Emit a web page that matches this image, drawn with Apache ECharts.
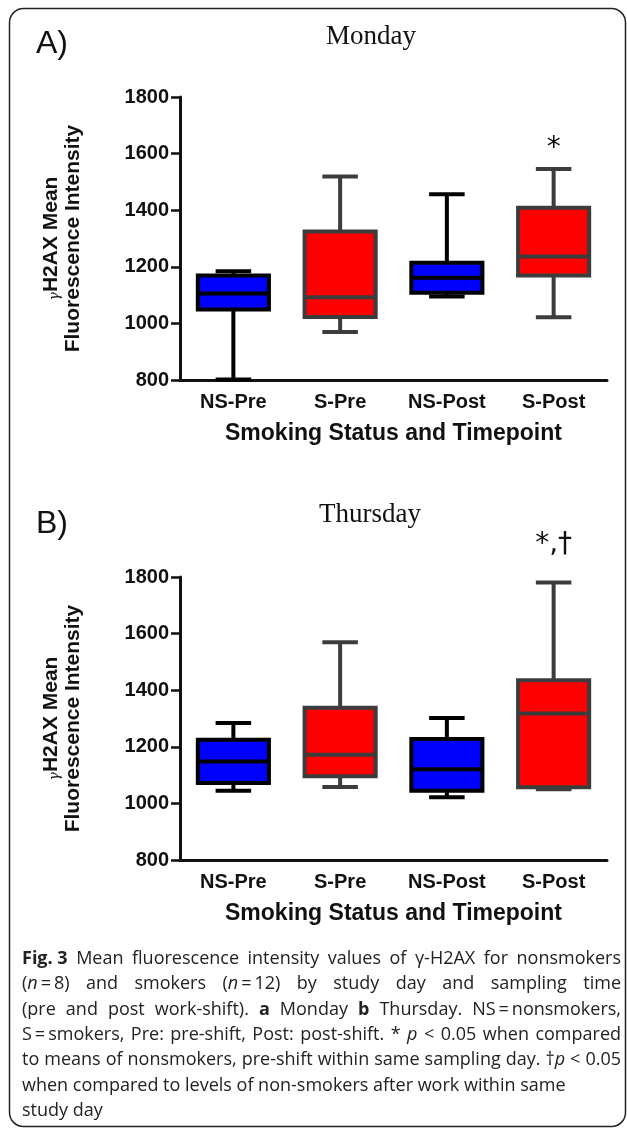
<!DOCTYPE html>
<html>
<head>
<meta charset="utf-8">
<title>γ-H2AX mean fluorescence intensity</title>
<script src="https://cdn.jsdelivr.net/npm/echarts@6/dist/echarts.min.js"></script>
<style>
  html, body { margin: 0; padding: 0; background: #fff; }
  #chart { width: 627px; height: 1130px; }
</style>
</head>
<body>
<div id="chart"></div>
<script>
// values (box: low whisker, q1, median, q3, high whisker)
const categories = ['NS-Pre', 'S-Pre', 'NS-Post', 'S-Post'];

const mondayLow    = [802, 970, 1095, 1022];
const mondayQ1     = [1049, 1023, 1108, 1169];
const mondayMedian = [1106, 1092, 1161, 1236];
const mondayQ3     = [1169, 1325, 1214, 1409];
const mondayHigh   = [1184, 1519, 1456, 1546];
const mondayMarks  = ['', '', '', '*'];

const thursdayLow    = [1045, 1058, 1022, 1050];
const thursdayQ1     = [1072, 1096, 1045, 1057];
const thursdayMedian = [1148, 1172, 1121, 1318];
const thursdayQ3     = [1225, 1338, 1228, 1435];
const thursdayHigh   = [1284, 1569, 1302, 1781];
const thursdayMarks  = ['', '', '', '*,\u2020'];

const yMin = 800, yMax = 1800, yStep = 200;

const captionLines = [
  '^Fig.\u00a03^ Mean fluorescence intensity values of γ-H2AX for nonsmokers',
  '(~n~\u2009=\u20098) and smokers (~n~\u2009=\u200912) by study day and sampling time',
  '(pre and post work-shift). ^a^ Monday ^b^ Thursday. NS\u2009=\u2009nonsmokers,',
  'S\u2009=\u2009smokers, Pre: pre-shift, Post: post-shift. * ~p~ < 0.05 when compared',
  'to means of nonsmokers, pre-shift within same sampling day. \u2020~p~ < 0.05',
  'when compared to levels of non-smokers after work within same',
  'study day'
];

const sans = '"Liberation Sans", Arial, sans-serif';
const capFamily = '"Open Sans", "Noto Sans", sans-serif';
const capSize = 18;

function toRows(low, q1, med, q3, high) {
  return categories.map((c, i) => [i, low[i], q1[i], med[i], q3[i], high[i]]);
}

function makeBox(marks, markGap) {
  return function (params, api) {
    const i = api.value(0);
    const low = api.coord([i, api.value(1)]);
    const q1 = api.coord([i, api.value(2)]);
    const med = api.coord([i, api.value(3)]);
    const q3 = api.coord([i, api.value(4)]);
    const high = api.coord([i, api.value(5)]);
    const half = api.size([1, 0])[0] * 0.333;
    const cap = half / 2;
    const x = med[0];
    const smoker = categories[i].charAt(0) === 'S';
    const ink = smoker ? '#3c3c3c' : '#000';
    const fill = smoker ? '#ff0000' : '#0000ff';
    const seg = (x1, y1, x2, y2) => ({
      type: 'line', shape: {x1, y1, x2, y2}, style: {stroke: ink, lineWidth: 4}
    });
    const children = [
      seg(x, high[1], x, q3[1]),
      seg(x - cap, high[1], x + cap, high[1]),
      seg(x, q1[1], x, low[1]),
      seg(x - cap, low[1], x + cap, low[1]),
      {
        type: 'rect',
        shape: {x: x - half, y: q3[1], width: half * 2, height: q1[1] - q3[1]},
        style: {fill: fill, stroke: ink, lineWidth: 4}
      },
      seg(x - half, med[1], x + half, med[1])
    ];
    if (marks[i]) {
      children.push({
        type: 'text', x: x, y: high[1] - markGap,
        style: {
          text: marks[i], fill: '#111', align: 'center', verticalAlign: 'middle',
          font: '28px "DejaVu Sans", sans-serif'
        }
      });
    }
    return {type: 'group', children: children};
  };
}

// caption: justified lines, ^bold^ and ~italic~ segments
const ctx = document.createElement('canvas').getContext('2d');
function fontOf(kind) {
  return (kind === 'i' ? 'italic ' : '') + (kind === 'b' ? 'bold ' : '') + capSize + 'px ' + capFamily;
}
function parseWord(word) {
  const parts = [];
  const re = /\^([^^]+)\^|~([^~]+)~|([^^~]+)/g;
  let m;
  while ((m = re.exec(word))) {
    if (m[1]) parts.push({kind: 'b', t: m[1]});
    else if (m[2]) parts.push({kind: 'i', t: m[2]});
    else parts.push({kind: 'r', t: m[3]});
  }
  return parts;
}
function measure(parts) {
  return parts.reduce((s, p) => { ctx.font = fontOf(p.kind); return s + ctx.measureText(p.t).width; }, 0);
}
const capRich = {
  r: {fontFamily: capFamily, fontSize: capSize, fill: '#222'},
  b: {fontFamily: capFamily, fontSize: capSize, fontWeight: 'bold', fill: '#222'},
  i: {fontFamily: capFamily, fontSize: capSize, fontStyle: 'italic', fill: '#222'}
};
const captionEls = [];
const capLeft = 22, capRight = 621, capTop = 959, capStep = 25.3;
ctx.font = fontOf('r');
const spaceW = ctx.measureText(' ').width;
captionLines.forEach((line, li) => {
  const words = line.split(' ').map(parseWord);
  const widths = words.map(measure);
  const total = widths.reduce((a, b) => a + b, 0);
  const justify = li < 5;
  const gap = justify ? (capRight - capLeft - total) / (words.length - 1) : spaceW;
  let x = capLeft;
  words.forEach((parts, wi) => {
    captionEls.push({
      type: 'text', x: x, y: capTop + li * capStep,
      style: {
        text: parts.map(p => '{' + p.kind + '|' + p.t + '}').join(''),
        rich: capRich, align: 'left', verticalAlign: 'middle'
      }
    });
    x += widths[wi] + gap;
  });
});

function xAxisFor(gridIndex) {
  return {
    type: 'category', gridIndex: gridIndex, data: categories, boundaryGap: true,
    axisLine: {lineStyle: {color: '#111', width: 3}},
    axisTick: {alignWithLabel: true, length: 7, lineStyle: {color: '#111', width: 2.5}},
    axisLabel: {margin: 12, color: '#111', fontSize: 20, fontWeight: 'bold', fontFamily: sans},
    name: 'Smoking Status and Timepoint', nameLocation: 'middle', nameGap: 42,
    nameTextStyle: {color: '#111', fontSize: 23, fontWeight: 'bold', fontFamily: sans}
  };
}
function yAxisFor(gridIndex) {
  return {
    type: 'value', gridIndex: gridIndex, min: yMin, max: yMax, interval: yStep,
    splitLine: {show: false},
    axisLine: {show: true, lineStyle: {color: '#111', width: 3}},
    axisTick: {show: true, length: 9, lineStyle: {color: '#111', width: 2.5}},
    axisLabel: {
      margin: 11, color: '#111', fontSize: 20, fontWeight: 'bold', fontFamily: sans,
      formatter: v => String(v)
    },
    name: '{g|γ}H2AX Mean\nFluorescence Intensity', nameLocation: 'middle', nameRotate: 90, nameGap: 96,
    nameTextStyle: {
      color: '#111', fontSize: 21, fontWeight: 'bold', fontFamily: sans, lineHeight: 22,
      rich: {g: {fontSize: 14, fontWeight: 'normal', fontStyle: 'italic', fontFamily: '"DejaVu Serif", serif',
                 color: '#111', verticalAlign: 'bottom', lineHeight: 22}}
    }
  };
}

const chart = echarts.init(document.getElementById('chart'));
chart.setOption({
  animation: false,
  grid: [
    {left: 180, top: 97, width: 427, height: 283, outerBoundsMode: 'none'},
    {left: 180, top: 577, width: 427, height: 283, outerBoundsMode: 'none'}
  ],
  xAxis: [xAxisFor(0), xAxisFor(1)],
  yAxis: [yAxisFor(0), yAxisFor(1)],
  series: [
    {
      type: 'custom', name: 'Monday', xAxisIndex: 0, yAxisIndex: 0, clip: false,
      encode: {x: 0, y: [1, 2, 3, 4, 5]},
      renderItem: makeBox(mondayMarks, 20),
      data: toRows(mondayLow, mondayQ1, mondayMedian, mondayQ3, mondayHigh)
    },
    {
      type: 'custom', name: 'Thursday', xAxisIndex: 1, yAxisIndex: 1, clip: false,
      encode: {x: 0, y: [1, 2, 3, 4, 5]},
      renderItem: makeBox(thursdayMarks, 38),
      data: toRows(thursdayLow, thursdayQ1, thursdayMedian, thursdayQ3, thursdayHigh)
    }
  ],
  graphic: {
    elements: [
      {
        type: 'rect', silent: true,
        shape: {x: 9.5, y: 8.5, width: 616, height: 1118, r: 14},
        style: {fill: 'none', stroke: '#222', lineWidth: 1.5}
      },
      {type: 'text', x: 36, y: 44, style: {text: 'A)', font: '32px ' + sans, fill: '#111', verticalAlign: 'middle'}},
      {type: 'text', x: 36, y: 524, style: {text: 'B)', font: '32px ' + sans, fill: '#111', verticalAlign: 'middle'}},
      {type: 'text', x: 371, y: 37, style: {text: 'Monday', font: '27px "Liberation Serif", serif', fill: '#111', align: 'center', verticalAlign: 'middle'}},
      {type: 'text', x: 370, y: 515, style: {text: 'Thursday', font: '27px "Liberation Serif", serif', fill: '#111', align: 'center', verticalAlign: 'middle'}}
    ].concat(captionEls)
  }
});
</script>
</body>
</html>
